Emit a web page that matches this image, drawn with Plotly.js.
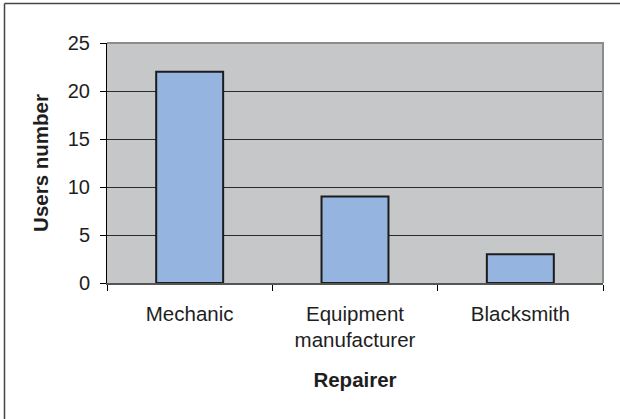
<!DOCTYPE html>
<html>
<head>
<meta charset="utf-8">
<script src="https://cdn.plot.ly/plotly-3.0.1.min.js"></script>
<style>
html,body{margin:0;padding:0;background:#fff;}
#chart{width:620px;height:419px;}
</style>
</head>
<body>
<div id="chart"></div>
<script>
var categories = ["Mechanic", "Equipment<br>manufacturer", "Blacksmith"];
var usersNumber = [22, 9, 3];
var yTickValues = [0, 5, 10, 15, 20, 25];
var yTickLabels = ["0", "5", "10", "15", "20", "25"];

var M = {l: 107, r: 17, t: 43, b: 136};
var W = 620, H = 419;
var pw = W - M.l - M.r, ph = H - M.t - M.b;
function px2x(px){ return (px - M.l) / pw; }
function py2y(py){ return (H - M.b - py) / ph; }

var trace = {
  type: 'bar',
  x: categories,
  y: usersNumber,
  marker: {color: '#95B4DF', line: {color: '#1c1c1c', width: 2}},
  hoverinfo: 'x+y'
};

var font = {family: '"Liberation Sans", Arial, sans-serif', color: '#1e1e1e'};

var layout = {
  width: W, height: H,
  margin: M,
  paper_bgcolor: '#ffffff',
  plot_bgcolor: '#C6C7C9',
  showlegend: false,
  bargap: 0.595,
  font: {family: font.family, size: 20, color: font.color},
  xaxis: {
    type: 'category',
    tickson: 'boundaries',
    ticks: 'outside', ticklen: 6, tickcolor: '#000', tickwidth: 1,
    ticklabelstandoff: 11,
    showline: true, linecolor: '#555', linewidth: 2,
    showgrid: false, zeroline: false,
    tickfont: {family: font.family, size: 20.5, color: font.color},
    title: {text: 'Repairer', font: {family: font.family, size: 20.5, color: font.color, weight: 'bold'}, standoff: 22},
    fixedrange: true
  },
  yaxis: {
    range: [0, 25],
    tickvals: yTickValues, ticktext: yTickLabels,
    ticks: 'outside', ticklen: 6, tickcolor: '#000', tickwidth: 1,
    ticklabelstandoff: 6,
    showline: true, linecolor: '#000', linewidth: 1,
    showgrid: true, gridcolor: '#2a2a2a', gridwidth: 1,
    zeroline: false,
    tickfont: {family: font.family, size: 20, color: font.color},
    title: {text: 'Users number', font: {family: font.family, size: 20.5, color: font.color, weight: 'bold'}, standoff: 13},
    fixedrange: true
  },
  shapes: [
    {type: 'line', xref: 'paper', yref: 'paper', x0: px2x(603), x1: px2x(603), y0: 0, y1: 1, line: {color: '#8c8c8c', width: 2}, layer: 'above'},
    {type: 'line', xref: 'paper', yref: 'paper', x0: 0, x1: px2x(604), y0: 1, y1: 1, line: {color: '#8c8c8c', width: 2}, layer: 'above'},
    {type: 'line', xref: 'paper', yref: 'paper', x0: px2x(4.5), x1: px2x(4.5), y0: py2y(3.5), y1: py2y(425), line: {color: '#444', width: 1.5}},
    {type: 'line', xref: 'paper', yref: 'paper', x0: px2x(4.5), x1: px2x(625), y0: py2y(3.5), y1: py2y(3.5), line: {color: '#444', width: 1.5}}
  ]
};

Plotly.newPlot('chart', [trace], layout, {displayModeBar: false, staticPlot: true});
</script>
</body>
</html>
